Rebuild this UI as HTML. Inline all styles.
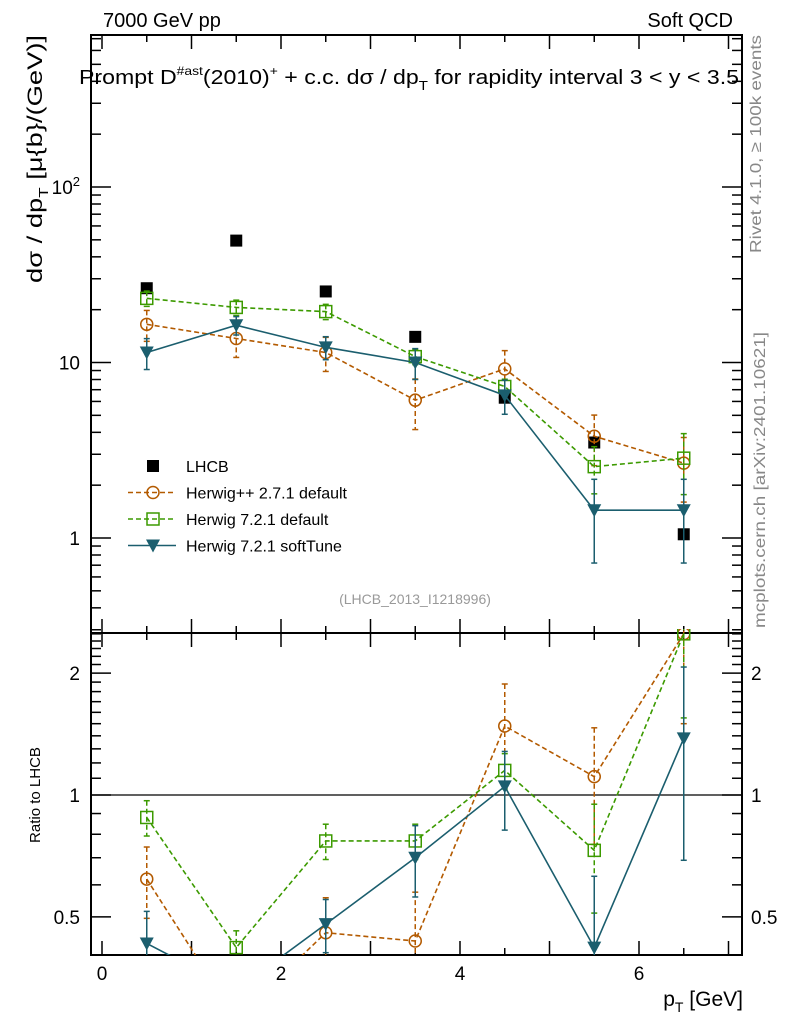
<!DOCTYPE html>
<html><head><meta charset="utf-8"><style>
body{margin:0;background:#fff;}
svg{font-family:"Liberation Sans",sans-serif;}
</style></head><body>
<svg id="chart" width="786" height="1024" xmlns="http://www.w3.org/2000/svg">
<text x="103" y="27" font-size="20">7000 GeV pp</text>
<text x="733" y="27" font-size="20" text-anchor="end">Soft QCD</text>
<text x="79" y="84" font-size="20" textLength="660" lengthAdjust="spacingAndGlyphs">Prompt D<tspan dy="-9" font-size="12">#ast</tspan><tspan dy="9">(2010)</tspan><tspan dy="-9" font-size="12">+</tspan><tspan dy="9"> + c.c.  dσ / dp</tspan><tspan dy="6" font-size="13">T</tspan><tspan dy="-6"> for rapidity interval 3 &lt; y &lt; 3.5</tspan></text>
<text transform="translate(42,35) rotate(-90)" font-size="21" text-anchor="end" textLength="248" lengthAdjust="spacingAndGlyphs">dσ / dp<tspan dy="6" font-size="13">T</tspan><tspan dy="-6"> [μ{b}/(GeV)]</tspan></text>
<text transform="translate(40,795) rotate(-90)" font-size="15" text-anchor="middle">Ratio to LHCB</text>
<text x="743" y="1006" font-size="21" text-anchor="end">p<tspan dy="6" font-size="14">T</tspan><tspan dy="-6"> [GeV]</tspan></text>
<text transform="translate(761,35) rotate(-90)" font-size="16" fill="#888" text-anchor="end" textLength="218" lengthAdjust="spacingAndGlyphs">Rivet 4.1.0, ≥ 100k events</text>
<text transform="translate(765,628) rotate(-90)" font-size="16" fill="#888" textLength="296" lengthAdjust="spacingAndGlyphs">mcplots.cern.ch [arXiv:2401.10621]</text>
<text x="415" y="604" font-size="14" fill="#999" text-anchor="middle">(LHCB_2013_I1218996)</text>
<g id="axes"></g>
<g id="series"></g>
<g id="legend"></g>
</svg>
<script>
const xCenters=[0.5,1.5,2.5,3.5,4.5,5.5,6.5];
const lhcb=[26.5,49.5,25.4,14,6.3,3.5,1.05];
const hwpp=[16.5,13.7,11.4,6.1,9.2,3.8,2.67];
const hwpp_err=[0.2,0.22,0.22,0.32,0.27,0.32,0.4];
const hw72=[23.2,20.6,19.5,10.8,7.3,2.55,2.85];
const hw72_err=[0.1,0.1,0.1,0.1,0.1,0.3,0.38];
const soft=[11.4,16.3,12.2,10,6.5,1.44,1.44];
const soft_err=[0.2,0.12,0.15,0.2,0.22,0.5,0.5];
const r_hwpp=[0.62,0.28,0.457,0.436,1.48,1.11,2.5];
const r_hw72=[0.88,0.42,0.77,0.77,1.15,0.73,2.5];
const r_soft=[0.43,0.33,0.48,0.70,1.05,0.42,1.38];
const xTicks=[0,2,4,6];
const yTicks=[1,10,100];
const rTicks=[0.5,1,2];

const NS='http://www.w3.org/2000/svg';
const L=91,R=742,T=35,M=633,B=955;
const X=v=>102+v*89.5;
const Y=v=>538-Math.log10(v)*175.5;
const RY=v=>795-Math.log10(v)*405;
function mk(tag,attrs,parent){const e=document.createElementNS(NS,tag);for(const k in attrs)e.setAttribute(k,attrs[k]);parent.appendChild(e);return e;}
const ax=document.getElementById('axes');
let e;
e=mk('rect',{x:L,y:T,width:R-L,height:M-T,fill:'none',stroke:'#000','stroke-width':2},ax);


e=mk('rect',{x:L,y:M,width:R-L,height:B-M,fill:'none',stroke:'#000','stroke-width':2},ax);


for(let v=0;v<=7;v+=0.5){
  const big=(v%1===0), len=big?14:7;
  for(const [y0,dir] of [[T,1],[M,-1],[M,1],[B,-1]]){
    mk('line',{x1:X(v),x2:X(v),y1:y0,y2:y0+dir*len,stroke:'#000','stroke-width':1.5},ax);
  }
}
xTicks.forEach(v=>{
  e=mk('text',{x:X(v),y:980,'font-size':19,'text-anchor':'middle'},ax);
  e.textContent=v;
  
  
});
for(let d=-1;d<=2;d++){for(let m=1;m<10;m++){const v=m*Math.pow(10,d);const y=Y(v);if(y<T||y>M)continue;const len=m===1?20:10;
  mk('line',{x1:L,x2:L+len,y1:y,y2:y,stroke:'#000','stroke-width':1.5},ax);
  mk('line',{x1:R,x2:R-len,y1:y,y2:y,stroke:'#000','stroke-width':1.5},ax);}}
e=mk('text',{x:80,y:Y(1)+7,'font-size':19,'text-anchor':'end'},ax);e.textContent='1';


e=mk('text',{x:80,y:Y(10)+7,'font-size':19,'text-anchor':'end'},ax);e.textContent='10';


e=mk('text',{x:80,y:Y(100)+7,'font-size':19,'text-anchor':'end'},ax);e.innerHTML='10<tspan dy="-8" font-size="13">2</tspan>';


for(let v=0.4;v<=2.6;v+=0.1){const y=RY(v);if(y<M||y>B)continue;const big=[0.5,1,2].some(t=>Math.abs(t-v)<1e-6);const len=big?20:10;
  mk('line',{x1:L,x2:L+len,y1:y,y2:y,stroke:'#000','stroke-width':1.5},ax);
  mk('line',{x1:R,x2:R-len,y1:y,y2:y,stroke:'#000','stroke-width':1.5},ax);}
rTicks.forEach(v=>{
  e=mk('text',{x:80,y:RY(v)+7,'font-size':19,'text-anchor':'end'},ax);e.textContent=v;
  
  
  e=mk('text',{x:751,y:RY(v)+7,'font-size':19},ax);e.textContent=v;
  
  
});
e=mk('line',{x1:L,x2:R,y1:RY(1),y2:RY(1),stroke:'#000','stroke-width':1.3},ax);



const sg=document.getElementById('series');
const cp=mk('clipPath',{id:'cm'},sg);mk('rect',{x:L,y:T,width:R-L,height:M-T},cp);
const cr=mk('clipPath',{id:'cr'},sg);mk('rect',{x:L,y:M-4,width:R-L,height:B-M+4},cr);
function marker(type,x,y,col,g){
  if(type==='circle')return mk('circle',{cx:x,cy:y,r:6,fill:'none',stroke:col,'stroke-width':1.5},g);
  if(type==='square')return mk('rect',{x:x-6,y:y-6,width:12,height:12,fill:'none',stroke:col,'stroke-width':1.5},g);
  if(type==='tri')return mk('path',{d:`M${x-7} ${y-6}L${x+7} ${y-6}L${x} ${y+7}Z`,fill:col},g);
  if(type==='block')return mk('rect',{x:x-6,y:y-6,width:12,height:12,fill:'#000'},g);
}
function drawSeries(name,vals,errs,ratio,col,dash,type){
  const g=mk('g',{'clip-path':'url(#cm)'},sg);
  
  
  const pts=vals.map((v,i)=>X(xCenters[i])+','+Y(v)).join(' ');
  mk('polyline',{points:pts,fill:'none',stroke:col,'stroke-width':1.6,'stroke-dasharray':dash},g);
  vals.forEach((v,i)=>{const x=X(xCenters[i]);
    const y1=Y(v*(1+errs[i])),y2=Y(v*Math.max(0.05,1-errs[i]));
    mk('line',{x1:x,x2:x,y1:y1,y2:y2,stroke:col,'stroke-width':1.5,'stroke-dasharray':dash},g);
    mk('line',{x1:x-3,x2:x+3,y1:y1,y2:y1,stroke:col,'stroke-width':1.5},g);
    mk('line',{x1:x-3,x2:x+3,y1:y2,y2:y2,stroke:col,'stroke-width':1.5},g);
    const m=marker(type,x,Y(v),col,g);
    
    
  });
  const gr=mk('g',{'clip-path':'url(#cr)'},sg);
  
  
  mk('polyline',{points:ratio.map((v,i)=>X(xCenters[i])+','+RY(v)).join(' '),fill:'none',stroke:col,'stroke-width':1.6,'stroke-dasharray':dash},gr);
  ratio.forEach((v,i)=>{const x=X(xCenters[i]);
    const y1=RY(v*(1+errs[i])),y2=RY(v*Math.max(0.05,1-errs[i]));
    mk('line',{x1:x,x2:x,y1:y1,y2:y2,stroke:col,'stroke-width':1.5,'stroke-dasharray':dash},gr);
    mk('line',{x1:x-3,x2:x+3,y1:y1,y2:y1,stroke:col,'stroke-width':1.5},gr);
    mk('line',{x1:x-3,x2:x+3,y1:y2,y2:y2,stroke:col,'stroke-width':1.5},gr);
    const m=marker(type,x,RY(v),col,gr);
    
    
  });
}
const gd=mk('g',{'clip-path':'url(#cm)'},sg);


lhcb.forEach((v,i)=>{const m=marker('block',X(xCenters[i]),Y(v),'#000',gd);
  
  });
drawSeries('herwigpp',hwpp,hwpp_err,r_hwpp,'#b35a00','5,3','circle');
drawSeries('herwig721',hw72,hw72_err,r_hw72,'#3c9a00','5,3','square');
drawSeries('softtune',soft,soft_err,r_soft,'#1b5e6e','','tri');

const lg=document.getElementById('legend');
const items=[['LHCB','#000','','block'],['Herwig++ 2.7.1 default','#b35a00','5,3','circle'],['Herwig 7.2.1 default','#3c9a00','5,3','square'],['Herwig 7.2.1 softTune','#1b5e6e','','tri']];
items.forEach((it,i)=>{const y=466+i*26.5;
  const g=mk('g',{},lg);
  
  
  if(it[3]!=='block')mk('line',{x1:128,x2:176,y1:y,y2:y,stroke:it[1],'stroke-width':1.6,'stroke-dasharray':it[2]},g);
  marker(it[3],153,y,it[1],g);
  const t=mk('text',{x:186,y:y+6,'font-size':16},g);t.textContent=it[0];
});
</script>
</body></html>
